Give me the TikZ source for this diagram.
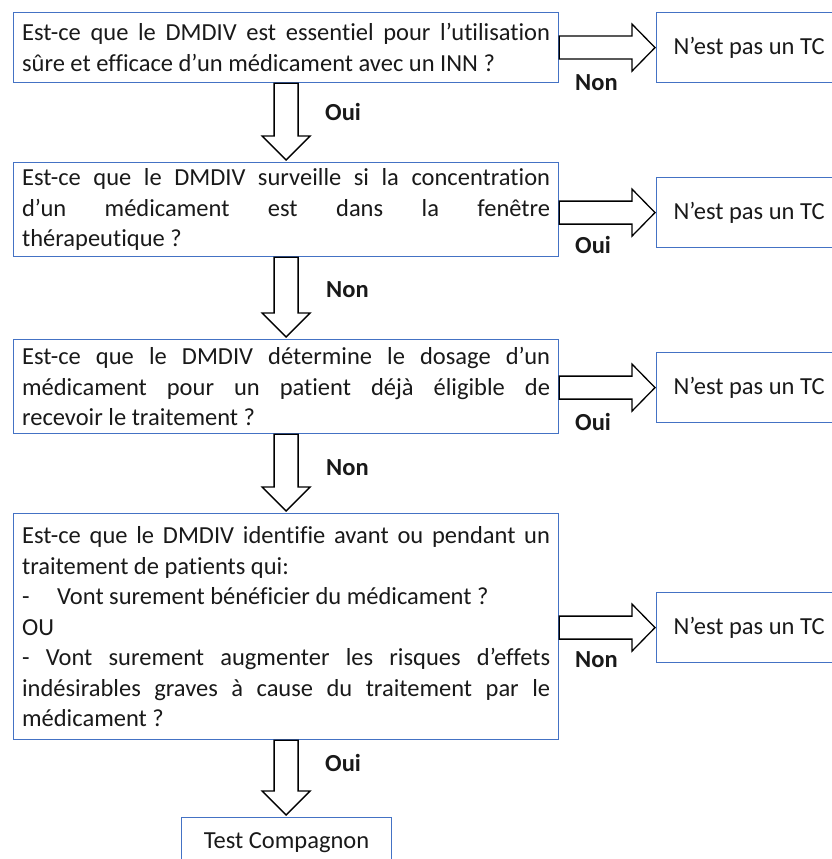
\documentclass[tikz,border=0pt]{standalone}
\usepackage{fontspec}
\setmainfont[Ligatures={NoCommon}]{Carlito}
\usetikzlibrary{calc}
\definecolor{boxblue}{RGB}{68,114,196}
\definecolor{txt}{RGB}{25,25,25}
\pretolerance=10000
\tolerance=10000
\hbadness=10000
\newcommand{\rarrowblk}[2]{%
  \draw[blockarrow] ($(#1.east |- #2.west)+(0,-11.5)$) -- ($(#2.west)+(-24,-11.5)$) -- ($(#2.west)+(-24,-23.5)$) -- ($(#2.west)+(-1,0)$) -- ($(#2.west)+(-24,23.5)$) -- ($(#2.west)+(-24,11.5)$) -- ($(#1.east |- #2.west)+(0,11.5)$) -- cycle;}
\newcommand{\darrowblk}[2]{%
  \draw[blockarrow] ($(#1.south)+(-12,0)$) -- ($(#1.south |- #2.north)+(-12,-26)$) -- ($(#1.south |- #2.north)+(-24,-26)$) -- ($(#1.south |- #2.north)+(0,-2)$) -- ($(#1.south |- #2.north)+(24,-26)$) -- ($(#1.south |- #2.north)+(12,-26)$) -- ($(#1.south)+(12,0)$) -- cycle;}
\begin{document}
\begin{tikzpicture}[x=1pt,y=-1pt,
  every node/.style={text=txt},
  qbox/.style={draw=boxblue, line width=1.2pt, anchor=north west, text width=528pt, inner xsep=8.5pt, inner ysep=0pt, align=justify, font=\fontsize{24.5}{30.5}\selectfont},
  rbox/.style={draw=boxblue, line width=1.2pt, anchor=north west, minimum width=185pt, minimum height=70pt, inner sep=0pt, font=\fontsize{24.5}{30.5}\selectfont},
  lab/.style={anchor=west, inner sep=0pt, font=\fontsize{24.5}{30.5}\selectfont\bfseries},
  blockarrow/.style={draw=black, fill=white, line width=1.3pt, line join=miter},
]
\useasboundingbox (0,0) rectangle (831,859);

% question boxes
\node[qbox, minimum height=70pt] (b1) at (13,12) {Est-ce que le DMDIV est essentiel pour l’utilisation\linebreak sûre et efficace d’un médicament avec un INN~?};
\node[qbox, minimum height=94pt] (b2) at (13,162) {Est-ce que le DMDIV surveille si la concentration\linebreak d’un médicament est dans la fenêtre\linebreak thérapeutique~?};
\node[qbox, minimum height=94pt] (b3) at (13,339) {Est-ce que le DMDIV détermine le dosage d’un\linebreak médicament pour un patient déjà éligible de\linebreak recevoir le traitement~?};
\node[qbox, minimum height=226pt] (b4) at (13,513) {Est-ce que le DMDIV identifie avant ou pendant un\linebreak traitement de patients qui:\\ \makebox[35pt][l]{-}Vont surement bénéficier du médicament~?\\ OU\\ - Vont surement augmenter les risques d’effets\linebreak indésirables graves à cause du traitement par le\linebreak médicament~?};

% outcome boxes
\node[rbox] (r1) at (656,12) {N’est pas un TC};
\node[rbox] (r2) at (656,177) {N’est pas un TC};
\node[rbox] (r3) at (656,352) {N’est pas un TC};
\node[rbox] (r4) at (656,592) {N’est pas un TC};
\node[rbox, minimum width=210pt, minimum height=50pt] (tc) at (181,817) {Test Compagnon};

% block arrows
\rarrowblk{b1}{r1}
\rarrowblk{b2}{r2}
\rarrowblk{b3}{r3}
\rarrowblk{b4}{r4}
\darrowblk{b1}{b2}
\darrowblk{b2}{b3}
\darrowblk{b3}{b4}
\darrowblk{b4}{tc}

% labels
\node[lab] (n1) at (575,83) {Non};
\node[lab] (o2) at (575,245) {Oui};
\node[lab] (o3) at (575,422) {Oui};
\node[lab] (n4) at (575,660) {Non};
\node[lab] (o1) at (325,112) {Oui};
\node[lab] (n2) at (326,290) {Non};
\node[lab] (n3) at (326,468) {Non};
\node[lab] (o4) at (325,763) {Oui};
\end{tikzpicture}
\end{document}
